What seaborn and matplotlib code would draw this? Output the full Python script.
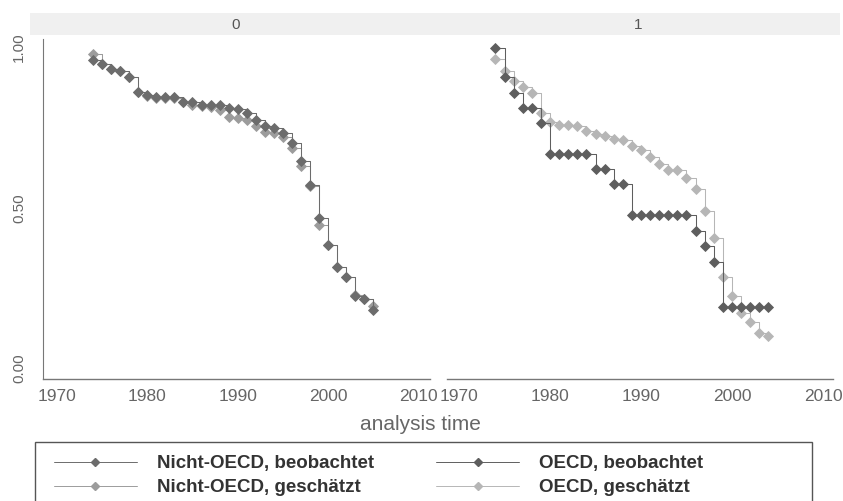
import numpy as np
import pandas as pd
import matplotlib
matplotlib.use("Agg")
import matplotlib.pyplot as plt
from matplotlib.lines import Line2D
from matplotlib.patches import Rectangle
import seaborn as sns

# Daten
jahre_0 = list(range(1974, 2006))
nicht_oecd_beob = [0.960, 0.949, 0.933, 0.926, 0.907, 0.863, 0.853, 0.846, 0.846, 0.846,
                   0.831, 0.829, 0.822, 0.822, 0.822, 0.812, 0.808, 0.795, 0.773, 0.756,
                   0.750, 0.733, 0.704, 0.646, 0.572, 0.468, 0.384, 0.317, 0.285, 0.225,
                   0.215, 0.181]
nicht_oecd_gesch = [0.980, 0.949, 0.933, 0.926, 0.907, 0.863, 0.850, 0.843, 0.843, 0.842,
                    0.829, 0.822, 0.817, 0.815, 0.806, 0.785, 0.780, 0.773, 0.756, 0.737,
                    0.735, 0.720, 0.688, 0.632, 0.567, 0.447, 0.384, 0.317, 0.285, 0.228,
                    0.215, 0.194]

jahre_1 = list(range(1974, 2005))
oecd_beob = [1.000, 0.908, 0.860, 0.811, 0.811, 0.765, 0.669, 0.669, 0.669, 0.669,
             0.669, 0.621, 0.621, 0.574, 0.574, 0.478, 0.478, 0.478, 0.478, 0.478,
             0.478, 0.478, 0.429, 0.381, 0.332, 0.192, 0.192, 0.192, 0.192, 0.192,
             0.192]
oecd_gesch = [0.965, 0.926, 0.895, 0.877, 0.860, 0.796, 0.767, 0.760, 0.760, 0.757,
              0.741, 0.731, 0.723, 0.715, 0.712, 0.692, 0.681, 0.660, 0.637, 0.619,
              0.617, 0.593, 0.558, 0.489, 0.405, 0.285, 0.225, 0.171, 0.145, 0.108,
              0.100]

labels = ["Nicht-OECD, beobachtet", "Nicht-OECD, geschätzt",
          "OECD, beobachtet", "OECD, geschätzt"]
farben = {"Nicht-OECD, beobachtet": "#6c6c6c", "Nicht-OECD, geschätzt": "#9c9c9c",
          "OECD, beobachtet": "#5e5e5e", "OECD, geschätzt": "#b6b6b6"}

frames = []
for lab, jahre, werte, panel in [(labels[0], jahre_0, nicht_oecd_beob, 0),
                                 (labels[1], jahre_0, nicht_oecd_gesch, 0),
                                 (labels[2], jahre_1, oecd_beob, 1),
                                 (labels[3], jahre_1, oecd_gesch, 1)]:
    frames.append(pd.DataFrame({"jahr": jahre, "surv": werte, "serie": lab, "panel": panel}))
df = pd.concat(frames, ignore_index=True)

sns.set_style("white")
plt.rcParams["font.family"] = ["Liberation Sans", "DejaVu Sans"]

W, H = 843, 501
fig = plt.figure(figsize=(W / 100, H / 100), dpi=100)

def fx(px):
    return px / W

def fy(py):
    return 1 - py / H

# Kopfband
fig.patches.append(Rectangle((fx(30), fy(35)), fx(810), (35 - 13) / H,
                             transform=fig.transFigure, facecolor="#f0f0f0",
                             edgecolor="none", zorder=0))
fig.text(fx(236), fy(25), "0", ha="center", va="center", fontsize=11,
         color="#555555", zorder=5)
fig.text(fx(638), fy(25), "1", ha="center", va="center", fontsize=11,
         color="#555555", zorder=5)

ax0 = fig.add_axes([fx(43), fy(379), fx(430 - 43), (379 - 39) / H])
ax1 = fig.add_axes([fx(447), fy(379), fx(833 - 447), (379 - 39) / H])
for ax in (ax0, ax1):
    ax.patch.set_alpha(0)

achsen = {0: ax0, 1: ax1}
for lab in labels:
    sub = df[df["serie"] == lab]
    ax = achsen[sub["panel"].iloc[0]]
    c = farben[lab]
    sns.lineplot(data=sub, x="jahr", y="surv", ax=ax, color=c, marker="D",
                 markersize=5.5, markeredgecolor=c, markeredgewidth=0.6,
                 linewidth=0.75, drawstyle="steps-post", estimator=None,
                 legend=False, zorder=3 if "beob" in lab else 2)

ax0.set_xlim(1968.45, 2011.3)
ax1.set_xlim(1968.68, 2011.1)
ticks_x = [1970, 1980, 1990, 2000, 2010]
for ax in (ax0, ax1):
    ax.set_ylim(-0.034, 1.027)
    ax.set_xticks(ticks_x)
    ax.set_xticklabels([str(t) for t in ticks_x], fontsize=12.5, color="#666666")
    ax.set_xlabel("")
    ax.set_ylabel("")
    for s in ("top", "right"):
        ax.spines[s].set_visible(False)
    ax.spines["bottom"].set_color("#777777")
    ax.spines["bottom"].set_linewidth(1.0)
    ax.tick_params(axis="x", direction="out", length=4, width=0.8, colors="#777777",
                   labelcolor="#666666", pad=3)

ax0.set_yticks([0, 0.5, 1.0])
ax0.set_yticklabels(["0.00", "0.50", "1.00"], rotation=90, va="center",
                    fontsize=11, color="#666666")
ax0.spines["left"].set_color("#777777")
ax0.tick_params(axis="y", direction="out", length=4, width=0.8, colors="#777777",
                labelcolor="#666666", pad=8)
ax1.spines["left"].set_visible(False)
ax1.set_yticks([])

fig.text(fx(420), fy(424), "analysis time", ha="center", va="center",
         fontsize=15, color="#666666")

# Legende mit eigenem Rahmen
fig.patches.append(Rectangle((fx(35), -0.05), fx(812 - 35), fy(442) + 0.05,
                             transform=fig.transFigure, facecolor="none",
                             edgecolor="#555555", linewidth=1.0, zorder=1))
handles = [Line2D([], [], color=farben[l], marker="D", markersize=4,
                  markeredgecolor=farben[l], linewidth=0.7) for l in labels]
fig.legend(handles, labels,
           loc="upper left", bbox_to_anchor=(fx(41), fy(442)), ncol=2,
           frameon=False, prop={"size": 13.5, "weight": "bold"},
           handlelength=4.4, handletextpad=1.1, columnspacing=3.3,
           labelspacing=0.38, borderpad=0.2, labelcolor="#333333")

fig.savefig("out.png", dpi=100)
